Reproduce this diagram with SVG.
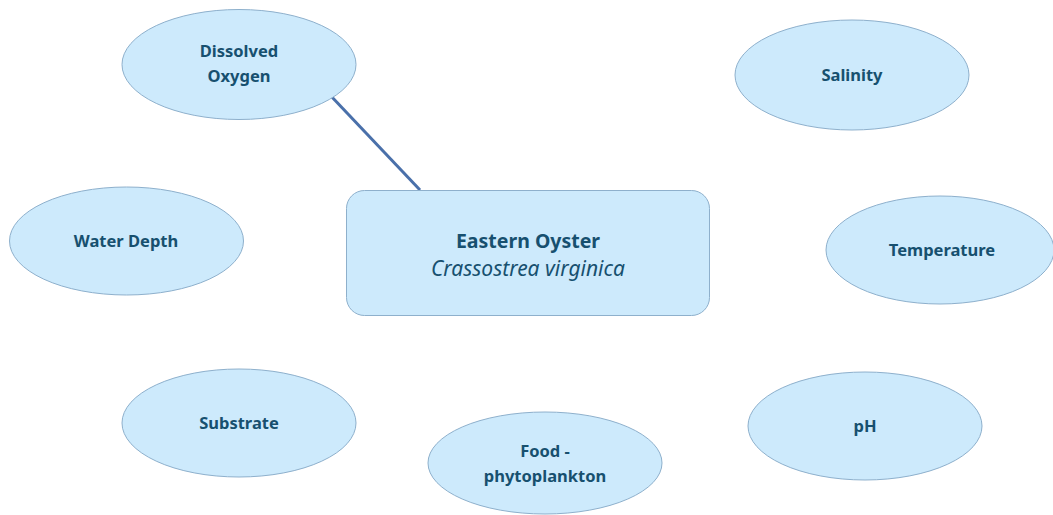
<svg xmlns="http://www.w3.org/2000/svg" width="1053" height="515" viewBox="0 0 1053 515">
<style>
.n{fill:#cdeafc;stroke:#8eb0cc;stroke-width:1}
.t{font-family:"Noto Sans","Open Sans",sans-serif;font-weight:bold;font-size:16.500px;fill:#17506f;text-anchor:middle}
.h{font-family:"Noto Sans","Open Sans",sans-serif;fill:#17506f;text-anchor:middle}
.c{stroke:#4a70aa;stroke-width:3;fill:none}
</style>
<rect width="1053" height="515" fill="#ffffff"/>
<g id="connectors">
<line class="c" x1="330" y1="95" x2="420" y2="190"/>
</g>
<g id="center">
<rect class="n" x="346.500" y="190.500" width="363" height="125" rx="18"/>
<text class="h" x="528" y="248" font-weight="bold" font-size="19.500">Eastern Oyster</text>
<text class="h" x="528" y="276" font-style="italic" font-size="21">Crassostrea virginica</text>
</g>
<g id="dissolved-oxygen">
<ellipse class="n" cx="239" cy="64.500" rx="117" ry="55"/>
<text class="t" x="239" y="57">Dissolved</text>
<text class="t" x="239" y="82">Oxygen</text>
</g>
<g id="salinity">
<ellipse class="n" cx="852" cy="75" rx="117" ry="55"/>
<text class="t" x="852" y="81">Salinity</text>
</g>
<g id="water-depth">
<ellipse class="n" cx="126.500" cy="241" rx="117" ry="54"/>
<text class="t" x="126" y="247">Water Depth</text>
</g>
<g id="temperature">
<ellipse class="n" cx="940" cy="250" rx="114" ry="54"/>
<text class="t" x="942" y="256">Temperature</text>
</g>
<g id="substrate">
<ellipse class="n" cx="239" cy="423" rx="117" ry="54"/>
<text class="t" x="239" y="429">Substrate</text>
</g>
<g id="food">
<ellipse class="n" cx="545" cy="463" rx="117" ry="51"/>
<text class="t" x="545" y="457">Food -</text>
<text class="t" x="545" y="482">phytoplankton</text>
</g>
<g id="ph">
<ellipse class="n" cx="865" cy="426" rx="117" ry="54"/>
<text class="t" x="865" y="432">pH</text>
</g>
</svg>
